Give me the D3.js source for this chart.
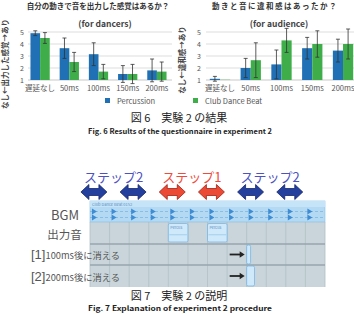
<!DOCTYPE html>
<html>
<head>
<meta charset="utf-8">
<script src="https://cdn.jsdelivr.net/npm/d3@7"></script>
<style>
  body { margin: 0; background: #fff; }
  text { font-family: "Noto Sans CJK JP", "Noto Sans", sans-serif; }
</style>
</head>
<body>
<div id="chart"></div>
<script>
// values (1 = なし, 5 = あり)
const categories = ["遅延なし", "50ms", "100ms", "150ms", "200ms"];
const seriesNames = ["Percussion", "Club Dance Beat"];
const yTicks = [1, 2, 3, 4, 5];

const dancerPercussion = [4.9, 3.65, 3.15, 1.5, 1.8];
const dancerPercussionErr = [0.2, 0.85, 0.95, 0.7, 0.95];
const dancerClub = [4.5, 2.5, 1.7, 1.5, 1.7];
const dancerClubErr = [0.45, 0.8, 0.6, 0.8, 0.8];

const audiencePercussion = [1.1, 2.0, 2.3, 3.65, 3.45];
const audiencePercussionErr = [0.2, 0.8, 1.2, 0.9, 0.95];
const audienceClub = [1.02, 2.65, 4.3, 4.0, 4.0];
const audienceClubErr = [0, 1.45, 1.0, 1.1, 1.25];

// diagram below: times in ms
const stepLabels = ["ステップ2", "ステップ1", "ステップ2"];
const stepArrows = ["ステップ2", "ステップ2", "ステップ1", "ステップ1", "ステップ2", "ステップ2"];
const stepTimes = [100, 1100, 2100, 3100, 4100, 5100];
const bgmBeats = [50, 550, 1050, 1550, 2050, 2550, 3050, 3550, 4050, 4550, 5050, 5550];
const percusStarts = [2000, 3000];
const percusLength = 500;
const cutStart = 4000;
const cutRows = [{label: "[1]", text: "100ms後に消える", ms: 100}, {label: "[2]", text: "200ms後に消える", ms: 200}];
const gridTimes = d3.range(0, 6001, 500);

const W = 354, H = 314;
const colors = {blue: "#1f70b4", green: "#3fae4a", grid: "#d4d4d4", text: "#555"};

const svg = d3.select("#chart").append("svg")
    .attr("width", W)
    .attr("height", H);

function drawChart(opts) {
    let y = d3.scaleLinear().domain([1, 5]).range([80, 32]);
    let x0 = d3.scaleBand().domain(categories).range(opts.range);
    let bw = x0.bandwidth();
    let x1 = d3.scaleBand().domain(seriesNames).range([bw * 0.17, bw * 0.83]);

    let g = svg.append("g");

    // titles
    g.append("text")
        .attr("x", opts.titleX).attr("y", 9)
        .attr("text-anchor", "middle")
        .attr("font-size", 7.5).attr("font-weight", "bold")
        .attr("letter-spacing", opts.titleSpacing)
        .attr("fill", "#333")
        .text(opts.title);
    g.append("text")
        .attr("x", opts.subX).attr("y", 27)
        .attr("text-anchor", "middle")
        .attr("font-size", 8.5).attr("font-weight", "bold")
        .attr("fill", "#444")
        .text(opts.sub);

    // gridlines + ticks
    g.selectAll(".grid").data(yTicks).enter().append("line")
        .attr("x1", opts.gridX[0]).attr("x2", opts.gridX[1])
        .attr("y1", d => y(d)).attr("y2", d => y(d))
        .attr("stroke", d => d == 1 ? "#bbb" : colors.grid)
        .attr("stroke-width", 0.8);
    g.selectAll(".tick").data(yTicks).enter().append("text")
        .attr("x", opts.tickX).attr("y", d => y(d) + 2.5)
        .attr("text-anchor", "middle")
        .attr("font-size", 7).attr("fill", colors.text)
        .text(d => d);

    // y label, vertical
    g.append("text")
        .attr("transform", "translate(" + opts.labelX + "," + opts.labelY + ") rotate(-90)")
        .attr("text-anchor", "middle")
        .attr("font-size", 7.5).attr("font-weight", "bold")
        .attr("fill", "#444")
        .text(opts.ylabel);

    let rows = [];
    categories.forEach((c, i) => {
        rows.push({cat: c, s: seriesNames[0], v: opts.values[0][i], e: opts.errs[0][i], col: colors.blue});
        rows.push({cat: c, s: seriesNames[1], v: opts.values[1][i], e: opts.errs[1][i], col: colors.green});
    });

    g.selectAll(".bar").data(rows).enter().append("rect")
        .attr("x", d => x0(d.cat) + x1(d.s))
        .attr("width", x1.bandwidth())
        .attr("y", d => y(d.v))
        .attr("height", d => y(1) - y(d.v))
        .attr("fill", d => d.col);

    // error bars
    let eb = g.selectAll(".err").data(rows.filter(d => d.e > 0)).enter().append("g")
        .attr("transform", d => "translate(" + (x0(d.cat) + x1(d.s) + x1.bandwidth() / 2) + ",0)");
    eb.append("line")
        .attr("y1", d => y(d.v + d.e)).attr("y2", d => y(d.v - d.e))
        .attr("stroke", "#333").attr("stroke-width", 0.8);
    eb.append("line")
        .attr("x1", -2).attr("x2", 2)
        .attr("y1", d => y(d.v + d.e)).attr("y2", d => y(d.v + d.e))
        .attr("stroke", "#333").attr("stroke-width", 0.8);
    eb.append("line")
        .attr("x1", -2).attr("x2", 2)
        .attr("y1", d => y(d.v - d.e)).attr("y2", d => y(d.v - d.e))
        .attr("stroke", "#333").attr("stroke-width", 0.8);

    // category labels
    g.selectAll(".cat").data(categories).enter().append("text")
        .attr("x", d => x0(d) + bw / 2).attr("y", 91)
        .attr("text-anchor", "middle")
        .attr("font-size", 7.5).attr("fill", colors.text)
        .text(d => d);
}

drawChart({
    range: [25.5, 171.5], gridX: [28, 172], tickX: 22, labelX: 8, labelY: 64,
    titleX: 98, titleSpacing: 0, subX: 105,
    title: "自分の動きで音を出力した感覚はあるか？", sub: "(for dancers)",
    ylabel: "なし←出力した感覚→あり",
    values: [dancerPercussion, dancerClub], errs: [dancerPercussionErr, dancerClubErr]
});
drawChart({
    range: [204.6, 358.4], gridX: [206, 354], tickX: 199, labelX: 185, labelY: 60,
    titleX: 275, titleSpacing: 1.5, subX: 279,
    title: "動きと音に違和感はあったか？", sub: "(for audience)",
    ylabel: "なし←違和感→あり",
    values: [audiencePercussion, audienceClub], errs: [audiencePercussionErr, audienceClubErr]
});

// legend
let legend = svg.append("g").selectAll("g").data(seriesNames).enter().append("g")
    .attr("transform", (d, i) => "translate(" + [105, 193][i] + ",98)");
legend.append("rect").attr("width", 5).attr("height", 5)
    .attr("fill", (d, i) => i == 0 ? colors.blue : colors.green);
legend.append("text").attr("x", 12).attr("y", 5.5)
    .attr("font-size", 7.5).attr("fill", colors.text)
    .text(d => d);

// captions
function caption(y1, gap, jp, en) {
    svg.append("text").attr("x", 179).attr("y", y1)
        .attr("text-anchor", "middle").attr("font-size", 11).attr("fill", "#222")
        .text(jp);
    svg.append("text").attr("x", 180).attr("y", y1 + gap)
        .attr("text-anchor", "middle").attr("font-size", 7).attr("font-weight", "bold")
        .attr("font-family", "DejaVu Sans Condensed").attr("fill", "#222")
        .attr("textLength", 184).attr("lengthAdjust", "spacingAndGlyphs")
        .text(en);
}
caption(122, 12, "図 6　実験 2 の結果", "Fig. 6  Results of the questionnaire in experiment 2");

// ---- timeline diagram ----
let t = d3.scaleLinear().domain([0, 6000]).range([90, 325]);
let rowY = {top: 201, bgm: 222, out: 244, r1: 265, r2: 287};

let diag = svg.append("g");

diag.append("rect")
    .attr("x", t(0)).attr("y", rowY.top)
    .attr("width", t(6000) - t(0)).attr("height", rowY.r2 - rowY.top)
    .attr("fill", "#c9d5da");

diag.selectAll(".vgrid").data(gridTimes).enter().append("line")
    .attr("x1", d => t(d)).attr("x2", d => t(d))
    .attr("y1", rowY.bgm).attr("y2", rowY.r2)
    .attr("stroke", "#b3c0c6").attr("stroke-width", 0.8);

[rowY.out, rowY.r1].forEach(v => {
    diag.append("line").attr("x1", t(0)).attr("x2", t(6000))
        .attr("y1", v).attr("y2", v)
        .attr("stroke", "#97a5ac").attr("stroke-width", 1.5);
});

// BGM track
diag.append("rect")
    .attr("x", t(0)).attr("y", rowY.top)
    .attr("width", t(6000) - t(0)).attr("height", rowY.bgm - rowY.top)
    .attr("fill", "#b4daf3").attr("stroke", "#86bde3").attr("stroke-width", 0.6);
diag.append("rect")
    .attr("x", t(0)).attr("y", rowY.top)
    .attr("width", t(6000) - t(0)).attr("height", 6)
    .attr("fill", "#c6e4f7");
diag.append("text")
    .attr("x", t(0) + 2).attr("y", rowY.top + 4.5)
    .attr("font-size", 4).attr("fill", "#5b8fc2")
    .text("Club Dance Beat 0152");

[211.5, 217.5].forEach(cy => {
    diag.append("line").attr("x1", t(0)).attr("x2", t(6000))
        .attr("y1", cy).attr("y2", cy)
        .attr("stroke", "#6aa9dc").attr("stroke-width", 0.6).attr("stroke-dasharray", "3,2");
    diag.selectAll(null).data(bgmBeats).enter().append("path")
        .attr("d", d => {
            let x = t(d);
            return "M" + x + "," + (cy - 3) + " L" + (x + 5) + "," + cy + " L" + x + "," + (cy + 3) + " Z";
        })
        .attr("fill", "#3d8cd4");
});

// percussion output clips
function clip(x0, x1, y0, y1, label) {
    diag.append("rect")
        .attr("x", x0).attr("y", y0).attr("width", x1 - x0).attr("height", y1 - y0)
        .attr("rx", 1.5)
        .attr("fill", "#cfe8fa").attr("stroke", "#6fb2e4").attr("stroke-width", 0.7);
    if (label) {
        diag.append("text").attr("x", x0 + 2).attr("y", y0 + 5)
            .attr("font-size", 3.8).attr("fill", "#5b8fc2").text(label);
        diag.append("line").attr("x1", x0 + 1).attr("x2", x1 - 1)
            .attr("y1", (y0 + y1) / 2 + 2).attr("y2", (y0 + y1) / 2 + 2)
            .attr("stroke", "#7ab6e3").attr("stroke-width", 0.5);
    }
}
percusStarts.forEach(s => clip(t(s), t(s + percusLength), rowY.bgm + 1.5, rowY.out - 2, "Percus"));

let cutY = [[rowY.out + 1, rowY.r1 - 1], [rowY.r1 + 1, rowY.r2 - 1]];
cutRows.forEach((r, i) => {
    clip(t(cutStart), t(cutStart + r.ms), cutY[i][0], cutY[i][1], null);
    let my = (cutY[i][0] + cutY[i][1]) / 2;
    diag.append("line")
        .attr("x1", t(cutStart) - 17).attr("x2", t(cutStart) - 6)
        .attr("y1", my).attr("y2", my)
        .attr("stroke", "#222").attr("stroke-width", 1.8);
    diag.append("path")
        .attr("d", "M" + (t(cutStart) - 2) + "," + my + " l-5,-3.2 l0,6.4 Z")
        .attr("fill", "#222");
    // row label
    let lt = svg.append("text").attr("x", 31).attr("y", my + 4.5).attr("fill", "#555");
    lt.append("tspan").attr("font-size", 13).attr("font-family", "Liberation Sans").text(r.label);
    lt.append("tspan").attr("font-size", 9.3).text(r.text);
});

svg.append("text").attr("x", 65).attr("y", 220)
    .attr("text-anchor", "middle").attr("font-size", 13)
    .attr("font-family", "Liberation Sans").attr("fill", "#555").text("BGM");
svg.append("text").attr("x", 64.5).attr("y", 239)
    .attr("text-anchor", "middle").attr("font-size", 11.5).attr("fill", "#555").text("出力音");

// step arrows
let arrowColor = {"ステップ1": ["#ec4a35", "#9a2216"], "ステップ2": ["#24409e", "#15266a"]};
let textColor = {"ステップ1": "#ef4b3d", "ステップ2": "#4d52c2"};

svg.selectAll(".arr").data(stepArrows).enter().append("path")
    .attr("transform", (d, i) => "translate(" + t(stepTimes[i]) + ",192)")
    .attr("d", "M-13,0 L-5,-7.5 L-5,-3.5 L5,-3.5 L5,-7.5 L13,0 L5,7.5 L5,3.5 L-5,3.5 L-5,7.5 Z")
    .attr("fill", d => arrowColor[d][0])
    .attr("stroke", d => arrowColor[d][1]).attr("stroke-width", 0.8);

svg.selectAll(".step").data(stepLabels).enter().append("text")
    .attr("x", (d, i) => (t(stepTimes[i * 2]) + t(stepTimes[i * 2 + 1])) / 2)
    .attr("y", 182)
    .attr("text-anchor", "middle").attr("font-size", 13)
    .attr("fill", d => textColor[d])
    .text(d => d);

caption(300, 10.5, "図 7　実験 2 の説明", "Fig. 7  Explanation of experiment 2 procedure");
</script>
</body>
</html>
